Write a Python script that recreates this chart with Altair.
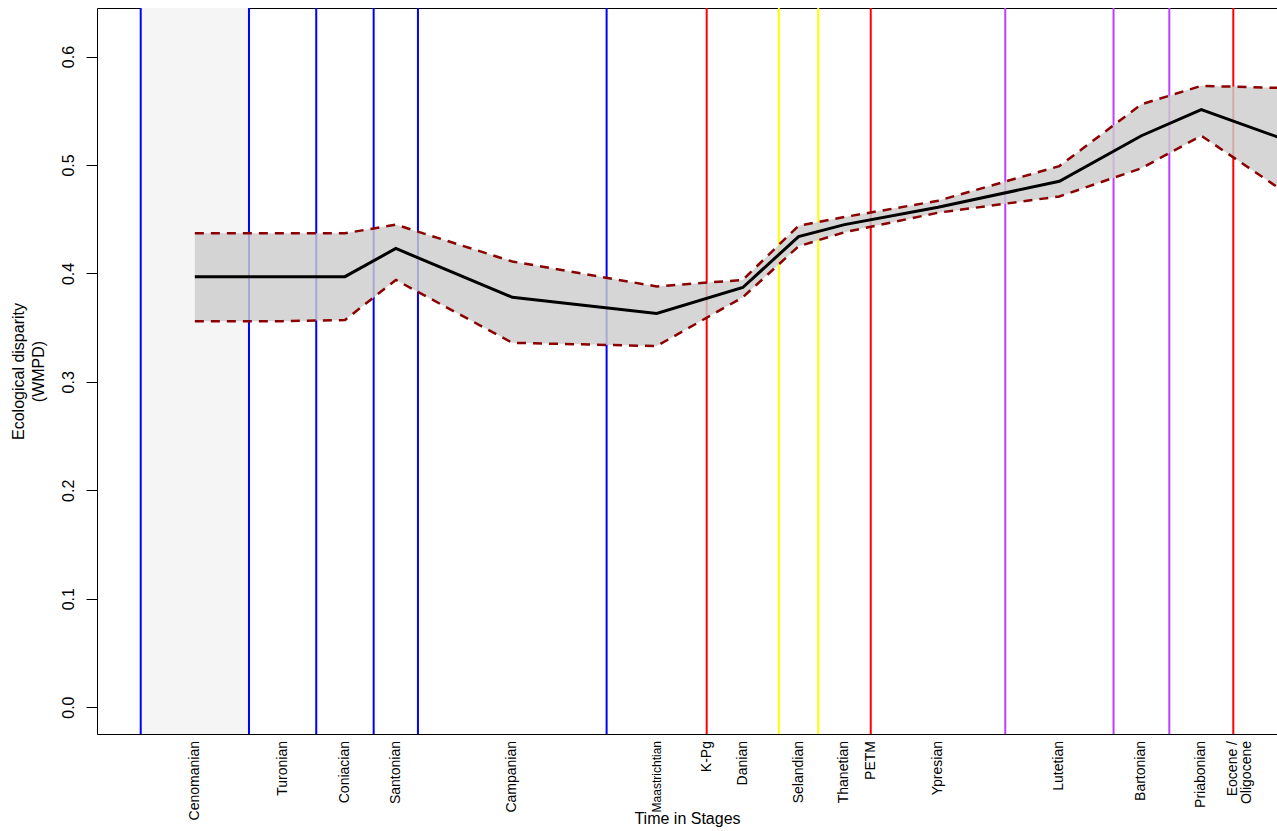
import altair as alt
import pandas as pd

# Stage midpoints (Ma) with the weighted mean pairwise distance and its envelope
stages = ["Cenomanian", "Turonian", "Coniacian", "Santonian", "Campanian",
          "Maastrichtian", "Danian", "Selandian", "Thanetian", "Ypresian",
          "Lutetian", "Bartonian", "Priabonian", "Rupelian"]
stage_mid_ma = [97.2, 91.85, 88.05, 84.95, 77.85, 69.05, 63.8, 60.4, 57.6,
                51.9, 44.5, 39.5, 35.85, 30.86]
wmpd = [0.397, 0.397, 0.397, 0.423, 0.378, 0.363, 0.387, 0.434, 0.445,
        0.461, 0.485, 0.527, 0.551, 0.524]
wmpd_upper = [0.437, 0.437, 0.437, 0.445, 0.411, 0.388, 0.394, 0.444, 0.452,
              0.467, 0.499, 0.556, 0.573, 0.571]
wmpd_lower = [0.356, 0.356, 0.357, 0.394, 0.336, 0.333, 0.378, 0.425, 0.438,
              0.456, 0.471, 0.497, 0.527, 0.476]

# Stage and event boundaries (Ma)
boundary_ma = [100.5, 93.9, 89.8, 86.3, 83.6, 72.1, 66.0, 61.6, 59.2, 56.0,
               47.8, 41.2, 37.8, 33.9]
boundary_group = ["Cretaceous"] * 6 + ["Event", "Paleocene", "Paleocene", "Event",
                                       "Eocene", "Eocene", "Eocene", "Event"]

# Labels along the time axis
label_text = ["Cenomanian", "Turonian", "Coniacian", "Santonian", "Campanian",
              "Maastrichtian", "K-Pg", "Danian", "Selandian", "Thanetian", "PETM",
              "Ypresian", "Lutetian", "Bartonian", "Priabonian", "Eocene /\nOligocene"]
label_ma = [97.2, 91.85, 88.05, 84.95, 77.85, 69.05, 66.0, 63.8, 60.4, 57.6,
            56.0, 51.9, 44.5, 39.5, 35.85, 33.9]

# Shaded Cenomanian interval
shade_start = [100.5]
shade_end = [93.9]

y_ticks = [0.0, 0.1, 0.2, 0.3, 0.4, 0.5, 0.6]

W, H = 1180, 726
FONT = "Liberation Sans"

series = pd.DataFrame({"stage": stages, "age": stage_mid_ma, "wmpd": wmpd,
                       "upper": wmpd_upper, "lower": wmpd_lower})
bounds = pd.DataFrame({"age": boundary_ma, "group": boundary_group})
labels = pd.DataFrame({"label": label_text, "age": label_ma})
shade = pd.DataFrame({"start": shade_start, "end": shade_end})

x_scale = alt.Scale(domain=[31.236, 103.164], reverse=True, nice=False, zero=False)
y_scale = alt.Scale(domain=[-0.0248, 0.6448], nice=False, zero=False)

x_axis = alt.Axis(labels=False, ticks=False, domain=False, grid=False,
                  title="Time in Stages", titleFont=FONT, titleFontSize=16,
                  titleFontWeight="normal", titleColor="#000000",
                  titleBaseline="alphabetic", titleY=89)
y_axis = alt.Axis(values=y_ticks, format=".1f", grid=False, domain=False,
                  tickSize=11, tickColor="#000000", tickWidth=1,
                  labelFont=FONT, labelFontSize=16, labelColor="#000000",
                  labelAngle=270, labelAlign="center", labelBaseline="alphabetic",
                  labelPadding=13,
                  title=["Ecological disparity", "(WMPD)"], titleFont=FONT,
                  titleFontSize=16, titleFontWeight="normal", titleColor="#000000",
                  titleAngle=270, titleAlign="center", titleBaseline="middle",
                  titleLineHeight=20, titleX=-79, titleY=363)

shade_layer = alt.Chart(shade).mark_rect(color="#f5f5f5").encode(
    x=alt.X("start:Q", scale=x_scale, axis=x_axis),
    x2="end:Q",
    y=alt.value(0),
    y2=alt.value(H),
)

rules = alt.Chart(bounds).mark_rule(strokeWidth=2).encode(
    x=alt.X("age:Q", scale=x_scale),
    color=alt.Color("group:N", legend=None,
                    scale=alt.Scale(domain=["Cretaceous", "Event", "Paleocene", "Eocene"],
                                    range=["#0000ff", "#ff0000", "#ffff00", "#bf3eff"])),
)

band = alt.Chart(series).mark_area(color="#cdcdcd", opacity=0.82, clip=True).encode(
    x=alt.X("age:Q", scale=x_scale),
    y=alt.Y("upper:Q", scale=y_scale, axis=y_axis),
    y2="lower:Q",
)

upper_line = alt.Chart(series).mark_line(
    color="#8b0000", strokeWidth=2.5, strokeDash=[9, 7], clip=True).encode(
    x=alt.X("age:Q", scale=x_scale),
    y=alt.Y("upper:Q", scale=y_scale),
)

lower_line = alt.Chart(series).mark_line(
    color="#8b0000", strokeWidth=2.5, strokeDash=[9, 7], clip=True).encode(
    x=alt.X("age:Q", scale=x_scale),
    y=alt.Y("lower:Q", scale=y_scale),
)

mean_line = alt.Chart(series).mark_line(color="#000000", strokeWidth=3, clip=True).encode(
    x=alt.X("age:Q", scale=x_scale),
    y=alt.Y("wmpd:Q", scale=y_scale),
)

stage_labels = alt.Chart(labels).mark_text(
    angle=270, align="right", baseline="middle", font=FONT, color="#000000",
    lineBreak="\n", lineHeight=14).encode(
    x=alt.X("age:Q", scale=x_scale),
    y=alt.value(H + 7),
    text="label:N",
    size=alt.condition("datum.label == 'Maastrichtian'", alt.value(12), alt.value(14)),
)

chart = alt.layer(
    shade_layer, rules, band, upper_line, lower_line, mean_line, stage_labels
).properties(
    width=W, height=H,
    padding={"left": 97, "top": 8, "right": 0, "bottom": 97},
    autosize="none",
    background="#ffffff",
).configure_view(
    stroke="#000000", strokeWidth=1
)

chart.save("out.html", embed_options={"renderer": "svg", "actions": False})
